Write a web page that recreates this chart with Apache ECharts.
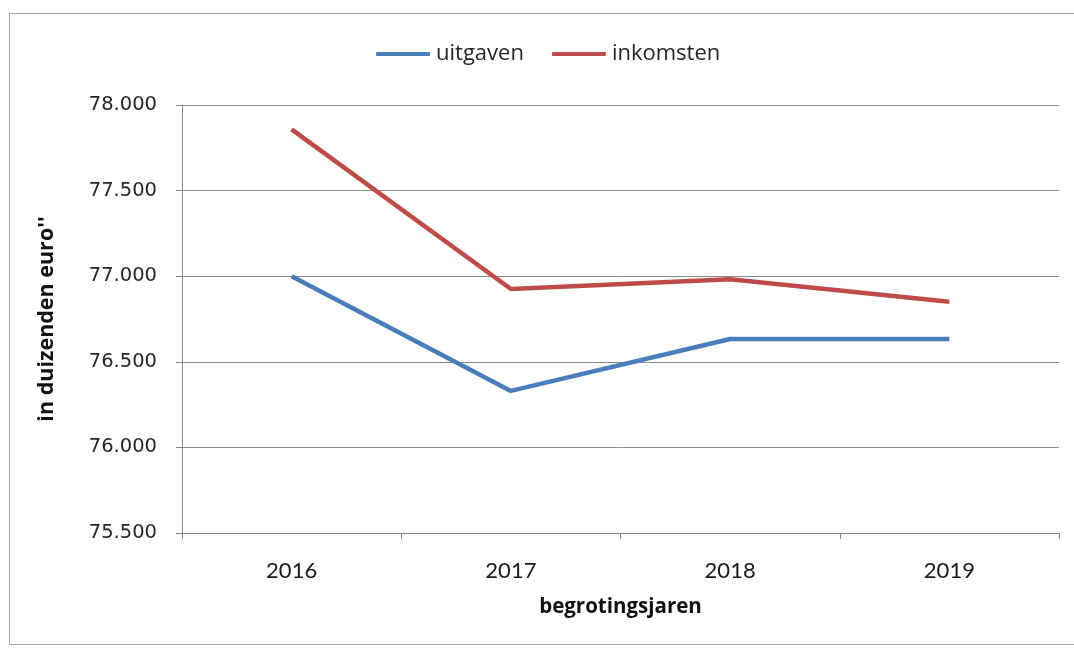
<!DOCTYPE html>
<html><head><meta charset="utf-8">
<script src="https://cdn.jsdelivr.net/npm/echarts@6/dist/echarts.min.js"></script>
<style>html,body{margin:0;padding:0;background:#fff}#c{width:1074px;height:651px;position:relative}
#frame{position:absolute;left:9px;top:13px;width:1070px;height:632px;border:1px solid #a6a6a6;box-sizing:border-box;pointer-events:none}</style>
</head><body><div id="c"></div><div id="frame"></div>
<script>
const years = ['2016','2017','2018','2019'];
const uitgaven = [77000, 76330, 76633, 76633];
const inkomsten = [77858, 76925, 76982, 76851];
const yTicks = [75500, 76000, 76500, 77000, 77500, 78000];

const chart = echarts.init(document.getElementById('c'), null, {renderer:'canvas'});
const fmt = v => String(v).replace(/\B(?=(\d{3})+(?!\d))/g, '.');
chart.setOption({
  animation:false,
  backgroundColor:'#fff',
  legend:{
    top:38, left:371, itemWidth:54, itemHeight:4, itemGap:28,
    icon:'roundRect',
    textStyle:{fontFamily:'Open Sans', fontSize:22, color:'#262626', padding:[0,0,0,1]},
    data:['uitgaven','inkomsten']
  },
  grid:{left:182, right:15, top:105, bottom:118},
  xAxis:{
    type:'category', data:years, boundaryGap:true,
    name:'begrotingsjaren', nameLocation:'middle', nameGap:64,
    nameTextStyle:{fontFamily:'Open Sans', fontWeight:'bold', fontSize:20.5, color:'#111'},
    axisLine:{lineStyle:{color:'#868686', width:1}},
    axisTick:{show:true, length:6, lineStyle:{color:'#868686'}},
    axisLabel:{fontFamily:'Lato', fontSize:22, color:'#1a1a1a', margin:27}
  },
  yAxis:{
    type:'value', min:yTicks[0], max:yTicks[yTicks.length-1], interval:500,
    name:"in duizenden euro''", nameLocation:'middle', nameGap:124, nameRotate:90,
    nameTextStyle:{fontFamily:'Open Sans', fontWeight:'bold', fontSize:21.5, color:'#111'},
    axisLine:{show:true, lineStyle:{color:'#868686', width:1}},
    axisTick:{show:true, length:6, lineStyle:{color:'#868686'}},
    axisLabel:{fontFamily:'DejaVu Sans', fontSize:19.5, color:'#262626', margin:25, formatter:fmt},
    splitLine:{lineStyle:{color:'#8c8c8c', width:1}}
  },
  series:[
    {name:'uitgaven', type:'line', data:uitgaven, symbol:'none', lineStyle:{color:'#4A7EBB', width:4.5}, itemStyle:{color:'#4A7EBB'}},
    {name:'inkomsten', type:'line', data:inkomsten, symbol:'none', lineStyle:{color:'#BE4B48', width:4.5}, itemStyle:{color:'#BE4B48'}}
  ]
});
</script></body></html>
